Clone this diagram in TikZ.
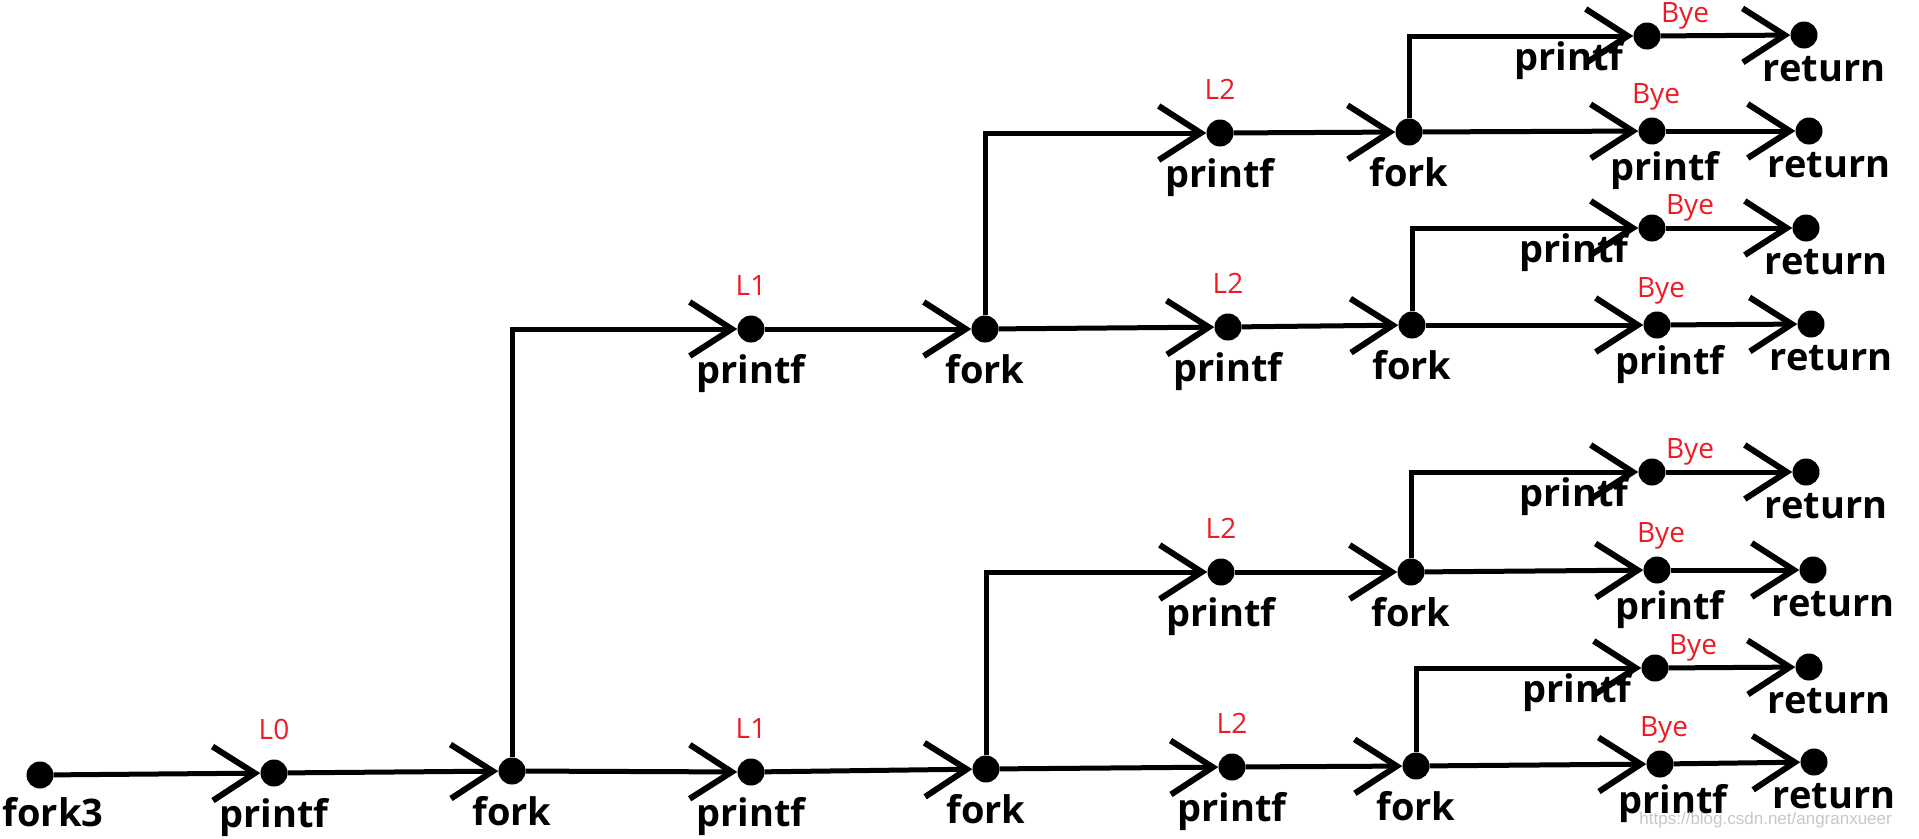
\documentclass[tikz,border=0pt]{standalone}
\usepackage{fontspec}
\setmainfont{Open Sans}
\newfontfamily\wmfont{Liberation Sans}
\usetikzlibrary{arrows.meta}
\definecolor{rojoL}{HTML}{ED1C24}
\begin{document}
\begin{tikzpicture}[x=1pt,y=-1pt,
      dot/.style={circle,fill=black,minimum size=27pt,inner sep=0pt},
      nm/.style={font=\fontsize{38}{42}\selectfont\bfseries,anchor=base,inner sep=0pt},
      tag/.style={font=\fontsize{28}{32}\selectfont,text=rojoL,anchor=base,inner sep=0pt},
      pf/.style={dot,label={[nm,yshift=-41pt]below:printf},label={[tag,yshift=20pt]above:#1}},
      fk/.style={dot,label={[nm,yshift=-41pt]below:fork}},
      ret/.style={dot,label={[nm,xshift=20pt,yshift=-33pt]below:return}},
      byeup/.style={dot,label={[nm,xshift=-78pt,yshift=-21pt]below:printf},label={[tag,xshift=38pt]above:Bye}},
      byedn/.style={dot,label={[nm,xshift=13pt,yshift=-36pt]below:printf},label={[tag,xshift=4pt,yshift=14pt]above:Bye}},
      fl/.style={-{Straight Barb[length=42pt,width=54pt,line width=6pt]},line width=5pt}]
    \useasboundingbox (0,0) rectangle (1919,838);
    \node[dot,label={[nm,xshift=13pt,yshift=-38pt]below:fork3}] (fk3) at (40,775) {};
    \node[pf=L0] (p0) at (274,773) {};
    \node[fk] (f0) at (512,771) {};
    \node[pf=L1] (p1a) at (751,329) {};
    \node[pf=L1] (p1b) at (751,772) {};
    \node[fk] (f1a) at (985,329) {};
    \node[fk] (f1b) at (986,769) {};
    \node[pf=L2] (p2a) at (1220,133) {};
    \node[pf=L2] (p2b) at (1228,327) {};
    \node[pf=L2] (p2c) at (1221,572) {};
    \node[pf=L2] (p2d) at (1232,767) {};
    \node[fk] (f2a) at (1409,132) {};
    \node[fk] (f2b) at (1412,325) {};
    \node[fk] (f2c) at (1411,572) {};
    \node[fk] (f2d) at (1416,766) {};
    \node[byeup] (q1) at (1647,36) {};
    \node[byedn] (q2) at (1652,131) {};
    \node[byeup] (q3) at (1652,228) {};
    \node[byedn] (q4) at (1657,325) {};
    \node[byeup] (q5) at (1652,472) {};
    \node[byedn] (q6) at (1657,570) {};
    \node[byeup] (q7) at (1655,668) {};
    \node[byedn] (q8) at (1660,764) {};
    \node[ret] (r1) at (1804,35) {};
    \node[ret] (r2) at (1809,131) {};
    \node[ret] (r3) at (1806,228) {};
    \node[ret] (r4) at (1811,324) {};
    \node[ret] (r5) at (1806,472) {};
    \node[ret] (r6) at (1813,570) {};
    \node[ret] (r7) at (1809,667) {};
    \node[ret] (r8) at (1814,762) {};
    \draw[fl] (fk3) -- (p0);
    \draw[fl] (p0) -- (f0);
    \draw[fl] (f0) |- (p1a);
    \draw[fl] (f0) -- (p1b);
    \draw[fl] (p1a) -- (f1a);
    \draw[fl] (p1b) -- (f1b);
    \draw[fl] (f1a) |- (p2a);
    \draw[fl] (f1a) -- (p2b);
    \draw[fl] (f1b) |- (p2c);
    \draw[fl] (f1b) -- (p2d);
    \draw[fl] (p2a) -- (f2a);
    \draw[fl] (p2b) -- (f2b);
    \draw[fl] (p2c) -- (f2c);
    \draw[fl] (p2d) -- (f2d);
    \draw[fl] (f2a) |- (q1);
    \draw[fl] (f2a) -- (q2);
    \draw[fl] (f2b) |- (q3);
    \draw[fl] (f2b) -- (q4);
    \draw[fl] (f2c) |- (q5);
    \draw[fl] (f2c) -- (q6);
    \draw[fl] (f2d) |- (q7);
    \draw[fl] (f2d) -- (q8);
    \draw[fl] (q1) -- (r1);
    \draw[fl] (q2) -- (r2);
    \draw[fl] (q3) -- (r3);
    \draw[fl] (q4) -- (r4);
    \draw[fl] (q5) -- (r5);
    \draw[fl] (q6) -- (r6);
    \draw[fl] (q7) -- (r7);
    \draw[fl] (q8) -- (r8);
    \node[font=\wmfont\fontsize{17}{20}\selectfont,text=black!22,anchor=base east,inner sep=0pt] (wm) at (1892,824) {https://blog.csdn.net/angranxueer};
  \end{tikzpicture}
\end{document}
